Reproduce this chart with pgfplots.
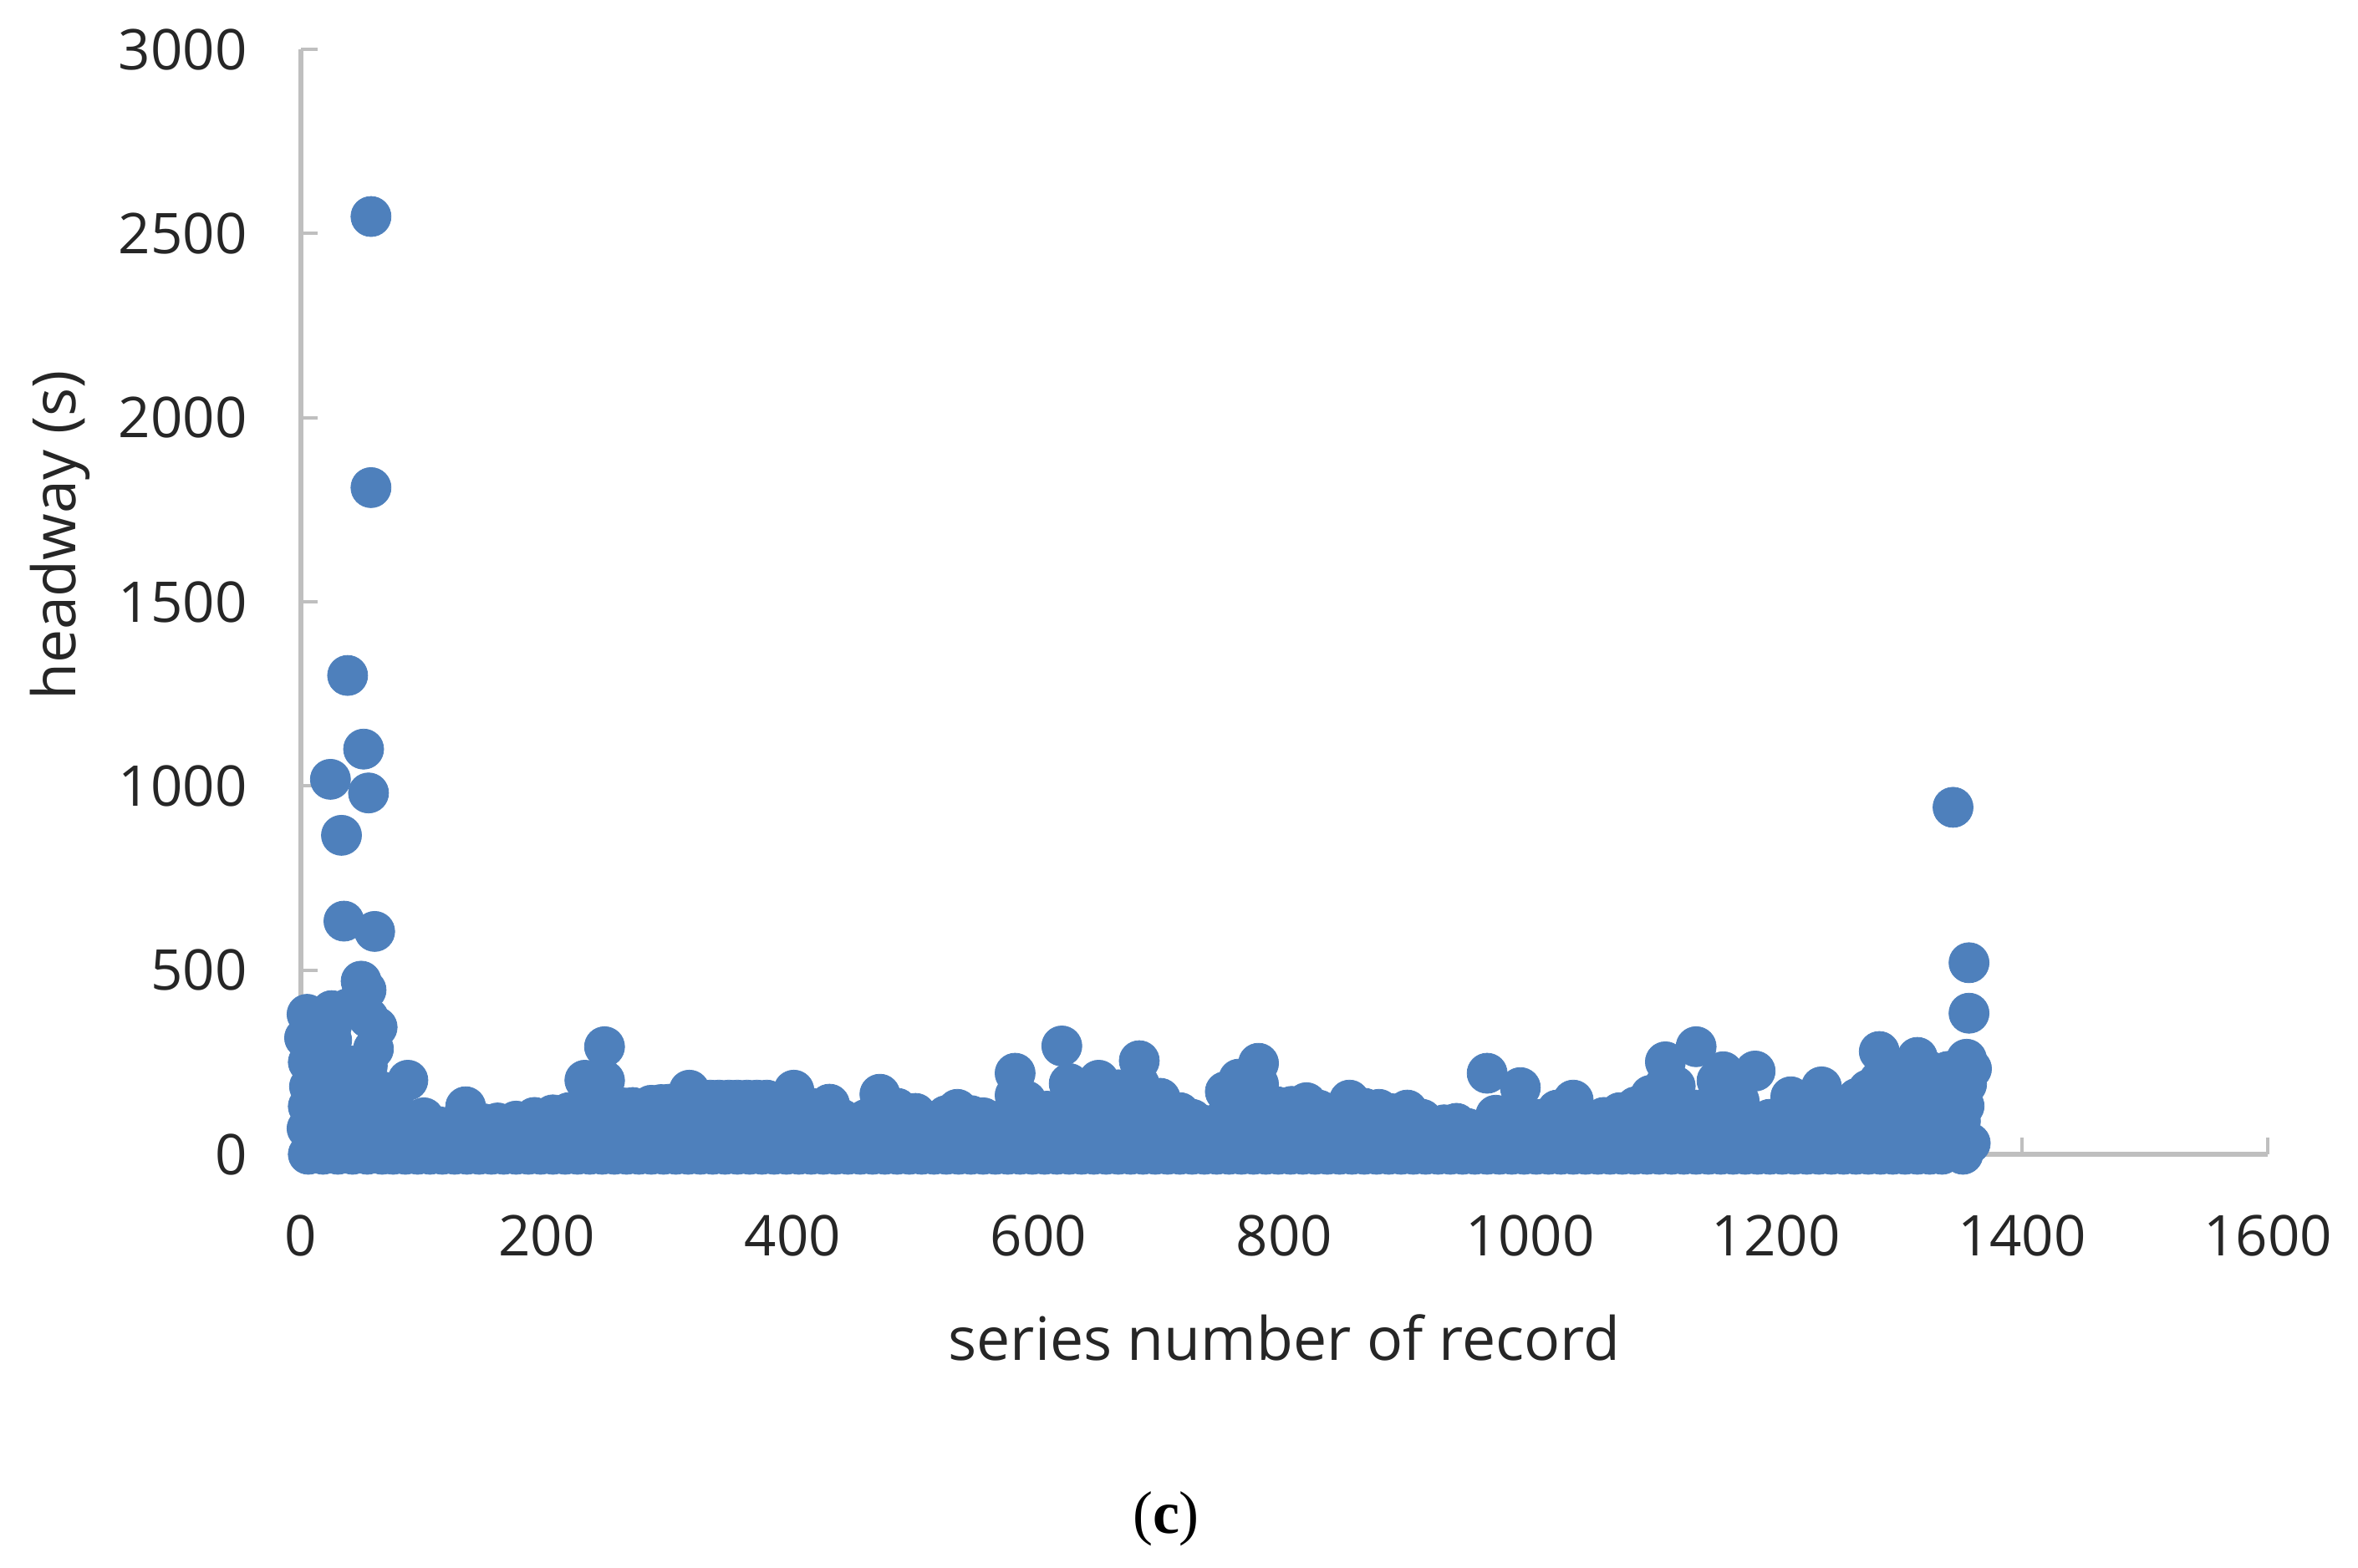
\documentclass[border=0pt]{standalone}
\usepackage{fontspec}
\setmainfont{Open Sans}
\newfontfamily\capfont{Liberation Serif}
\usepackage{pgfplots}
\pgfplotsset{compat=1.18}
\definecolor{ptblue}{HTML}{4E80BC}
\definecolor{axgray}{HTML}{BFBFBF}
\begin{document}
\begin{tikzpicture}
\path[use as bounding box] (0,0) rectangle (1410.5pt,937.5pt);
\begin{axis}[
  at={(180pt,247pt)}, anchor=south west,
  scale only axis, width=1176.5pt, height=661pt,
  xmin=0, xmax=1600, ymin=0, ymax=3000,
  xtick={0,200,...,1600}, ytick={0,500,...,3000},
  axis lines=left, axis line style={-, color=axgray, line width=2.8pt},
  tick align=inside, major tick length=10pt,
  tick style={color=axgray, line width=2pt},
  clip=false,
  /pgf/number format/1000 sep={},
  /pgf/number format/assume math mode=true,
  every tick label/.append style={font=\fontsize{33.6}{40}\selectfont, text=black!85},
  xticklabel style={inner sep=0pt, yshift=-36pt},
  yticklabel style={inner sep=0pt, xshift=-32pt},
  xlabel={series number of record},
  ylabel={headway (s)},
  label style={font=\fontsize{35.8}{42}\selectfont, text=black!85},
  xlabel style={at={(axis description cs:0.5,-0.1657)}, anchor=center, inner sep=0pt},
  ylabel style={at={(axis description cs:-0.1224,0.56)}, anchor=center, inner sep=0pt, rotate=0},
]
\addplot[only marks, mark=*, mark size=12pt, color=ptblue, mark options={draw=none, fill=ptblue}] coordinates {
% isolated high values
(57,2546)(57,1810)(38,1300)(51,1100)(24,1018)(55,981)(33,866)(35,633)(60,605)
(1344,942)(1357,520)(1357,383)
% dense cluster at the start
(6,0)(18,0)(30,0)(42,0)(54,0)(66,0)
(5,70)(18,60)(30,60)(42,60)(54,60)(66,60)
(6,130)(18,120)(30,120)(42,120)(54,120)(66,120)
(7,184)(18,180)(30,180)(42,180)(54,180)(66,170)
(6,250)(18,240)(30,240)(42,240)(54,240)
(3,316)(14,300)(25,310)(59,286)(62,345)
(5,380)(25,390)(14,360)(25,350)
(49,470)(53,446)(47,416)(55,370)(38,395)
% lower edge row
(75,0)(85,0)(95,0)(105,0)(115,0)(125,0)(135,0)(145,0)(155,0)(165,0)(175,0)(185,0)(195,0)(205,0)(215,0)(225,0)(235,0)(245,0)(255,0)(265,0)(275,0)(285,0)(295,0)(305,0)(315,0)(325,0)(335,0)(345,0)(355,0)(365,0)(375,0)(385,0)(395,0)(405,0)(415,0)(425,0)(435,0)(445,0)(455,0)(465,0)(475,0)(485,0)(495,0)(505,0)(515,0)(525,0)(535,0)(545,0)(555,0)(565,0)(575,0)(585,0)(595,0)(605,0)(615,0)(625,0)(635,0)(645,0)(655,0)(665,0)(675,0)(685,0)(695,0)(705,0)(715,0)(725,0)(735,0)(745,0)(755,0)(765,0)(775,0)(785,0)(795,0)(805,0)(815,0)(825,0)(835,0)(845,0)(855,0)(865,0)(875,0)(885,0)(895,0)(905,0)(915,0)(925,0)(935,0)(945,0)(955,0)(965,0)(975,0)(985,0)(995,0)(1005,0)(1015,0)(1025,0)(1035,0)(1045,0)(1055,0)(1065,0)(1075,0)(1085,0)(1095,0)(1105,0)(1115,0)(1125,0)(1135,0)(1145,0)(1155,0)(1165,0)(1175,0)(1185,0)(1195,0)(1205,0)(1215,0)(1225,0)(1235,0)(1245,0)(1255,0)(1265,0)(1275,0)(1285,0)(1295,0)(1305,0)(1315,0)(1325,0)(1335,0)(1352,0)
% middle row
(80,50)(100,50)(120,50)(140,50)(160,50)(180,50)(200,50)(220,50)(240,50)(260,50)(280,50)(300,50)(320,50)(340,50)(360,50)(380,50)(400,50)(420,50)(440,50)(460,50)(480,50)(500,50)(520,50)(540,50)(560,50)(580,50)(600,50)(620,50)(640,50)(660,50)(680,50)(700,50)(720,50)(740,50)(760,50)(780,50)(800,50)(820,50)(840,50)(860,50)(880,50)(900,50)(920,50)(940,50)(960,50)(980,50)(1000,50)(1020,50)(1040,50)(1060,50)(1080,50)(1100,50)(1120,50)(1140,50)(1160,50)(1180,50)(1200,50)(1220,50)(1240,50)(1260,50)(1280,50)(1300,50)(1320,50)(1340,50)(1358,30)
% upper edge
(75,145)(87,201)(100,99)(112,75)(125,79)(134,129)(148,83)(160,85)(175,90)(190,100)(205,107)(218,113)(231,201)(247,292)(240,145)(255,125)(262,126)(270,127)(285,133)(293,135)(300,136)(316,174)(333,147)(340,147)(348,147)(355,147)(363,147)(371,147)(379,147)(390,115)(401,174)(415,125)(430,136)(440,95)(448,65)(460,95)(471,163)(485,125)(500,111)(513,88)(525,105)(534,122)(545,105)(555,99)(568,90)(581,220)(590,145)(607,117)(619,294)(625,192)(637,175)(649,201)(665,175)(682,254)(699,152)(715,113)(725,95)(734,79)(752,170)(763,204)(779,247)(794,129)(806,130)(818,140)(828,120)(837,111)(853,147)(865,125)(877,122)(888,110)(900,120)(912,95)(922,72)(930,80)(940,84)(949,70)(957,56)(965,220)(972,106)(992,181)(1009,95)(1022,120)(1035,147)(1047,93)(1060,100)(1073,113)(1086,129)(1098,160)(1110,251)(1118,185)(1135,292)(1135,120)(1152,200)(1157,224)(1170,145)(1183,226)(1195,95)(1212,156)(1225,125)(1237,183)(1247,68)(1255,115)(1266,152)(1275,175)(1284,279)(1300,215)(1315,263)(1325,225)(1340,225)(1355,258)(1359,232)(1353,131)(1345,145)(1330,145)(1290,165)
% fill under the taller values
(134,95)(231,95)(240,95)(247,120)(247,200)(260,95)(280,95)(300,95)(316,95)(330,95)(345,95)(360,95)(375,95)(401,95)(415,95)(430,95)(471,95)(485,95)(500,85)(534,85)
(581,95)(581,160)(595,95)(610,95)(625,95)(625,140)(640,95)(640,140)(655,95)(655,140)(670,95)(682,140)(682,190)(695,95)(710,85)
(752,100)(765,95)(765,150)(779,120)(779,190)(795,95)(810,95)(825,90)(840,90)(853,95)(877,85)(900,85)
(992,110)(1022,85)(1035,95)
(1086,90)(1100,95)(1110,120)(1110,190)(1120,105)(1150,100)(1157,140)(1170,95)(1183,90)(1212,95)(1225,90)(1237,110)
(1255,85)(1266,100)(1275,100)(1284,120)(1284,200)(1300,120)(1300,160)(1315,120)(1315,190)(1328,100)(1340,120)(1340,170)(1350,90)(1355,190)
};
\end{axis}
\node[font=\capfont\fontsize{36}{42}\selectfont, anchor=center] at (697.5pt,28.7pt) {(\textbf{c})};
\end{tikzpicture}
\end{document}
